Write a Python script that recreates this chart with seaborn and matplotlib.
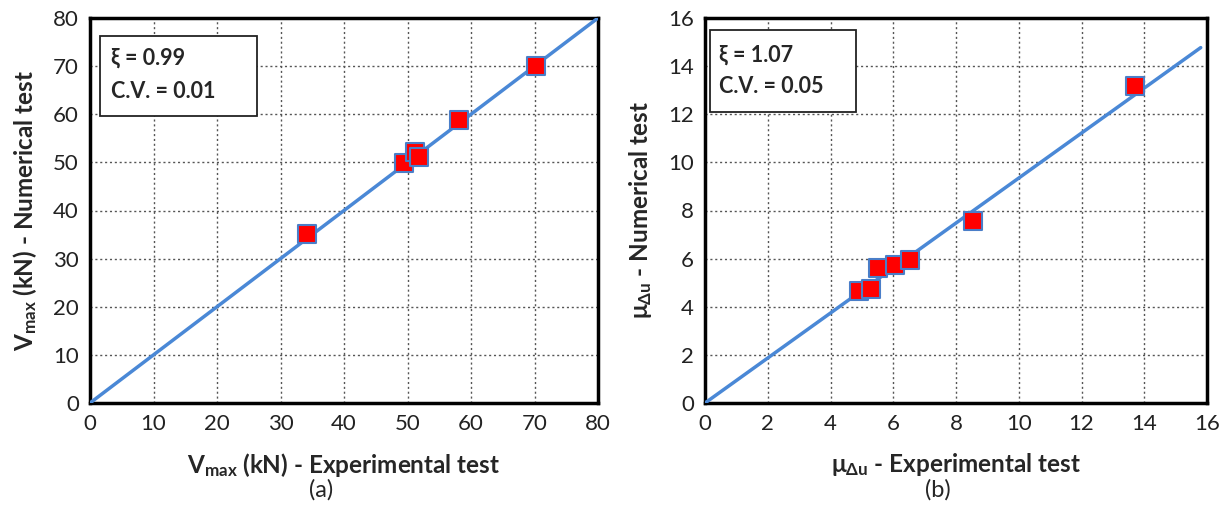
import numpy as np
import pandas as pd
import matplotlib
matplotlib.use("Agg")
import matplotlib.pyplot as plt
from matplotlib.patches import Rectangle
import seaborn as sns

# ---- data ----
vmax_exp = [34.2, 49.5, 51.2, 51.8, 58.1, 70.2]
vmax_num = [35.1, 49.8, 52.2, 51.1, 58.8, 70.0]
mu_exp = [4.9, 5.3, 5.5, 6.05, 6.52, 8.55, 13.72]
mu_num = [4.65, 4.74, 5.63, 5.72, 5.96, 7.57, 13.19]
line_a_x = [0, 80]
line_a_y = [0, 80]
line_b_x = [0, 15.8]
line_b_y = [0, 14.77]
ticks_a = [0, 10, 20, 30, 40, 50, 60, 70, 80]
ticks_b = [0, 2, 4, 6, 8, 10, 12, 14, 16]
box_a = ["ξ = 0.99", "C.V. = 0.01"]
box_b = ["ξ = 1.07", "C.V. = 0.05"]

sns.set_theme(style="white")
plt.rcParams['font.family'] = ['Lato', 'DejaVu Sans']
plt.rcParams['mathtext.fontset'] = 'custom'
plt.rcParams['mathtext.rm'] = 'Lato'
plt.rcParams['mathtext.bf'] = 'Lato:bold'
plt.rcParams['mathtext.it'] = 'Lato:italic'

fig = plt.figure(figsize=(12.27, 5.13), dpi=100)
axA = fig.add_axes([90/1227, 110/513, 508/1227, 385/513])
axB = fig.add_axes([705/1227, 110/513, 502/1227, 385/513])

line_col = '#4A88D6'
edge_col = '#4A7EC8'

def style(ax, ticks):
    ax.set_xlim(ticks[0], ticks[-1])
    ax.set_ylim(ticks[0], ticks[-1])
    ax.set_xticks(ticks)
    ax.set_yticks(ticks)
    ax.grid(True, color='#555555', linestyle=(0, (1.5, 2)), linewidth=1.0)
    for s in ax.spines.values():
        s.set_color('black')
        s.set_linewidth(2.5)
    ax.tick_params(axis='both', length=0, pad=8, labelsize=16, colors='#222222')
    ax.set_axisbelow(True)

def add_box(ax, lines, x0, x1, y0, y1, tx, ty1, ty2):
    ax.add_patch(Rectangle((x0, y0), x1 - x0, y1 - y0, transform=ax.transAxes,
                           facecolor='white', edgecolor='#222222', linewidth=1.3, zorder=5))
    ax.text(tx, ty1, lines[0], transform=ax.transAxes, fontsize=15.5, fontweight='bold',
            va='center', ha='left', zorder=6)
    ax.text(tx, ty2, lines[1], transform=ax.transAxes, fontsize=15.5, fontweight='bold',
            va='center', ha='left', zorder=6)

for ax, lx, ly, ex, nu, ticks in [
    (axA, line_a_x, line_a_y, vmax_exp, vmax_num, ticks_a),
    (axB, line_b_x, line_b_y, mu_exp, mu_num, ticks_b),
]:
    style(ax, ticks)
    sns.lineplot(x=lx, y=ly, ax=ax, color=line_col, linewidth=2.5, zorder=3)
    sns.scatterplot(x=ex, y=nu, ax=ax, marker='s', s=165, color='#FF0000',
                    edgecolor=edge_col, linewidth=1.5, zorder=4)

add_box(axA, box_a, 0.0197, 0.329, 0.745, 0.953, 0.041, 0.897, 0.810)
add_box(axB, box_b, 0.010, 0.301, 0.756, 0.969, 0.028, 0.904, 0.821)

axA.set_xlabel(r'V$_{\mathbf{max}}$ (kN) - Experimental test', fontsize=17.5, fontweight='bold', labelpad=12)
axA.set_ylabel(r'V$_{\mathbf{max}}$ (kN) - Numerical test', fontsize=17.5, fontweight='bold', labelpad=10)
axB.set_xlabel(r'μ$_{\mathbf{Δu}}$ - Experimental test', fontsize=17.5, fontweight='bold', labelpad=12)
axB.set_ylabel(r'μ$_{\mathbf{Δu}}$ - Numerical test', fontsize=17.5, fontweight='bold', labelpad=10)

fig.text(321/1227, 1 - 490/513, '(a)', fontsize=17, ha='center', va='center')
fig.text(938/1227, 1 - 490/513, '(b)', fontsize=17, ha='center', va='center')

fig.savefig('out.png', dpi=100)
